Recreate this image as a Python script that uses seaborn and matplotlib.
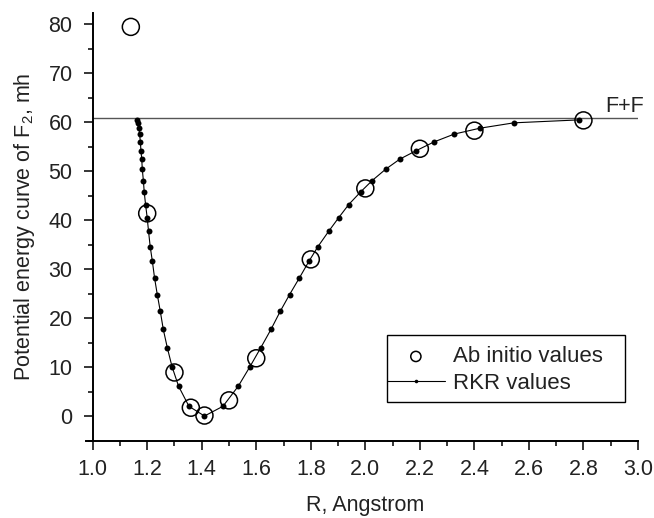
import pandas as pd
import matplotlib.pyplot as plt
import seaborn as sns
from matplotlib.ticker import MultipleLocator
from matplotlib.patches import Rectangle

# -----------------------------
# data
# -----------------------------
# ab initio points
abinit_r = [1.14, 1.20, 1.30, 1.36, 1.41, 1.50, 1.60, 1.80, 2.00, 2.20, 2.40, 2.80]
abinit_e = [79.5, 41.4, 8.9, 1.7, 0.1, 3.2, 11.8, 32.0, 46.5, 54.6, 58.3, 60.4]

# RKR turning points, one energy level per pair (v = 0, 1, 2, ...)
rkr_levels = [2.0, 6.1, 10.1, 13.9, 17.7, 21.4, 24.8, 28.2, 31.6, 34.6, 37.7, 40.5,
              43.2, 45.8, 48.1, 50.4, 52.5, 54.2, 56.0, 57.6, 58.8, 59.9, 60.5]
rkr_left = [1.353, 1.315, 1.291, 1.274, 1.259, 1.248, 1.237, 1.227, 1.219, 1.211, 1.205, 1.200,
            1.194, 1.189, 1.186, 1.182, 1.180, 1.177, 1.175, 1.172, 1.170, 1.167, 1.164]
rkr_right = [1.478, 1.534, 1.577, 1.616, 1.654, 1.688, 1.722, 1.758, 1.793, 1.826, 1.865, 1.902,
             1.939, 1.983, 2.025, 2.074, 2.127, 2.186, 2.252, 2.326, 2.420, 2.545, 2.784]
r_min = 1.41
e_min = 0.0

dissociation = 60.9  # F+F limit

# -----------------------------
# build the RKR path: left branch down, minimum, right branch up
# -----------------------------
rkr = pd.DataFrame({
    "R": rkr_left[::-1] + [r_min] + rkr_right,
    "E": rkr_levels[::-1] + [e_min] + rkr_levels,
})
abinit = pd.DataFrame({"R": abinit_r, "E": abinit_e})

sns.set_style("ticks")
plt.rcParams['font.family'] = ['Liberation Sans', 'DejaVu Sans']
plt.rcParams['mathtext.fontset'] = 'custom'
plt.rcParams['mathtext.rm'] = 'Liberation Sans'
plt.rcParams['mathtext.it'] = 'Liberation Sans:italic'

FS = 15.5
TXT = '#222222'

fig = plt.figure(figsize=(6.54, 5.18), dpi=100)
ax = fig.add_axes([0.1417, 0.1477, 0.8338, 0.8278])

ax.axhline(dissociation, color='#555555', lw=1.0, zorder=1)

sns.scatterplot(data=abinit, x="R", y="E", ax=ax, s=150, facecolors='none',
                edgecolor='black', linewidth=1.1, label="Ab initio values", zorder=3)
sns.lineplot(data=rkr, x="R", y="E", ax=ax, sort=False, estimator=None,
             color='black', linewidth=0.8, marker='o', markersize=4.3,
             markeredgewidth=0, label="RKR values", zorder=2)

ax.text(2.88, 62.2, "F+F", fontsize=FS, color=TXT)

ax.set_xlim(1.0, 3.0)
ax.set_ylim(-5.2, 82.4)
ax.xaxis.set_major_locator(MultipleLocator(0.2))
ax.xaxis.set_minor_locator(MultipleLocator(0.1))
ax.yaxis.set_major_locator(MultipleLocator(10))
ax.yaxis.set_minor_locator(MultipleLocator(5))
ax.tick_params(which='major', direction='out', length=6.5, width=1.1, labelsize=FS,
               color='black', labelcolor=TXT)
ax.tick_params(axis='y', which='major', pad=8)
ax.tick_params(axis='x', which='major', pad=6)
ax.tick_params(which='minor', direction='out', length=3.5, width=1.1, color='black')

for side in ['top', 'right']:
    ax.spines[side].set_visible(False)
for side in ['left', 'bottom']:
    ax.spines[side].set_linewidth(1.4)
    ax.spines[side].set_color('black')
# x axis line runs a little past the y axis, as in the original
ax.spines['bottom'].set_bounds(0.974, 3.0)
ax.spines['bottom'].set_clip_on(False)

ax.set_xlabel("R, Angstrom", fontsize=FS, color=TXT, labelpad=11)
ax.set_ylabel("Potential energy curve of F$_2$, mh", fontsize=FS, color=TXT, labelpad=8)

# legend: handle line starts at the frame edge, so draw the frame separately
box_x0, box_x1, box_y0, box_y1 = 0.5397, 0.9762, 0.0928, 0.2484
leg = ax.legend(loc='center left', bbox_to_anchor=(box_x0, (box_y0 + box_y1) / 2 - 0.004),
                frameon=False, fontsize=16, markerscale=0.6, handlelength=2.6,
                handletextpad=0.35, borderpad=0, borderaxespad=0, labelspacing=0.25)
for t in leg.get_texts():
    t.set_color(TXT)
ax.add_patch(Rectangle((box_x0, box_y0), box_x1 - box_x0, box_y1 - box_y0,
                       transform=ax.transAxes, fill=False, edgecolor='black',
                       linewidth=1.0, zorder=5))

fig.savefig("out.png", dpi=100)
